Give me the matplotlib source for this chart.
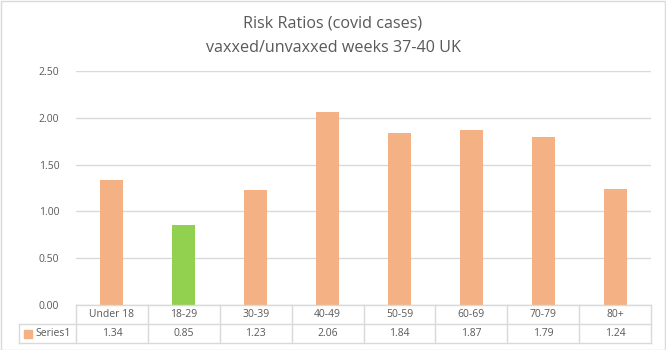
import matplotlib.pyplot as plt
from matplotlib.lines import Line2D
from matplotlib.patches import Rectangle

categories = ['Under 18', '18-29', '30-39', '40-49', '50-59', '60-69', '70-79', '80+']
values = [1.34, 0.85, 1.23, 2.06, 1.84, 1.87, 1.79, 1.24]
labels = ['1.34', '0.85', '1.23', '2.06', '1.84', '1.87', '1.79', '1.24']
series_name = 'Series1'
yticks = [0.0, 0.5, 1.0, 1.5, 2.0, 2.5]

orange = '#F4B183'
green = '#92D050'
txt = '#595959'
grid = '#D9D9D9'

plt.rcParams['font.family'] = ['Open Sans', 'DejaVu Sans']

W, H = 666, 350
fig = plt.figure(figsize=(W / 100, H / 100), dpi=100)

# plot area in pixels
x0, x1 = 76, 651
ytop, ybot = 71, 305
ax = fig.add_axes([x0 / W, 1 - ybot / H, (x1 - x0) / W, (ybot - ytop) / H])

colors = [green if c == '18-29' else orange for c in categories]
ax.bar(range(len(categories)), values, width=0.32, color=colors, zorder=3)
ax.set_xlim(-0.5, len(categories) - 0.5)
ax.set_ylim(0, 2.5)
ax.set_yticks(yticks)
ax.set_yticklabels(['%.2f' % v for v in yticks], fontsize=7.5, color=txt)
ax.tick_params(axis='y', length=0, pad=12)
ax.set_xticks([])
ax.grid(axis='y', color=grid, linewidth=1, zorder=0)
for s in ax.spines.values():
    s.set_visible(False)

# data table below the plot
def fx(px):
    return px / W

def fy(py):
    return 1 - py / H

r0, r1, r2 = 305, 324, 343
lx = 19
cw = (x1 - x0) / len(categories)
lines = [
    ((x0, x1), (r0, r0)),
    ((lx, x1), (r1, r1)),
    ((lx, x1), (r2, r2)),
    ((lx, lx), (r1, r2)),
]
for i in range(len(categories) + 1):
    xx = x0 + i * cw
    lines.append(((xx, xx), (r0, r2)))
for (xs, ys) in lines:
    fig.add_artist(Line2D([fx(xs[0]), fx(xs[1])], [fy(ys[0]), fy(ys[1])],
                          color=grid, linewidth=1))

for i, (c, l) in enumerate(zip(categories, labels)):
    cx = x0 + (i + 0.5) * cw
    fig.text(fx(cx), fy((r0 + r1) / 2), c, ha='center', va='center', fontsize=7.5, color=txt)
    fig.text(fx(cx), fy((r1 + r2) / 2), l, ha='center', va='center', fontsize=7.5, color=txt)

fig.add_artist(Rectangle((fx(24), fy(338)), 8 / W, 8 / H, color=orange,
                         transform=fig.transFigure))
fig.text(fx(35), fy((r1 + r2) / 2), series_name, ha='left', va='center', fontsize=7.5, color=txt)

fig.text(0.5, fy(24), 'Risk Ratios (covid cases)', ha='center', va='center',
         fontsize=11.6, color=txt)
fig.text(0.5, fy(48), 'vaxxed/unvaxxed weeks 37-40 UK', ha='center', va='center',
         fontsize=11.6, color=txt)

# chart border
fig.add_artist(Rectangle((0.5 / W, 0.5 / H), 1 - 1.5 / W, 1 - 1.5 / H, fill=False,
                         edgecolor=grid, linewidth=1, transform=fig.transFigure))

fig.savefig('out.png', dpi=100)
